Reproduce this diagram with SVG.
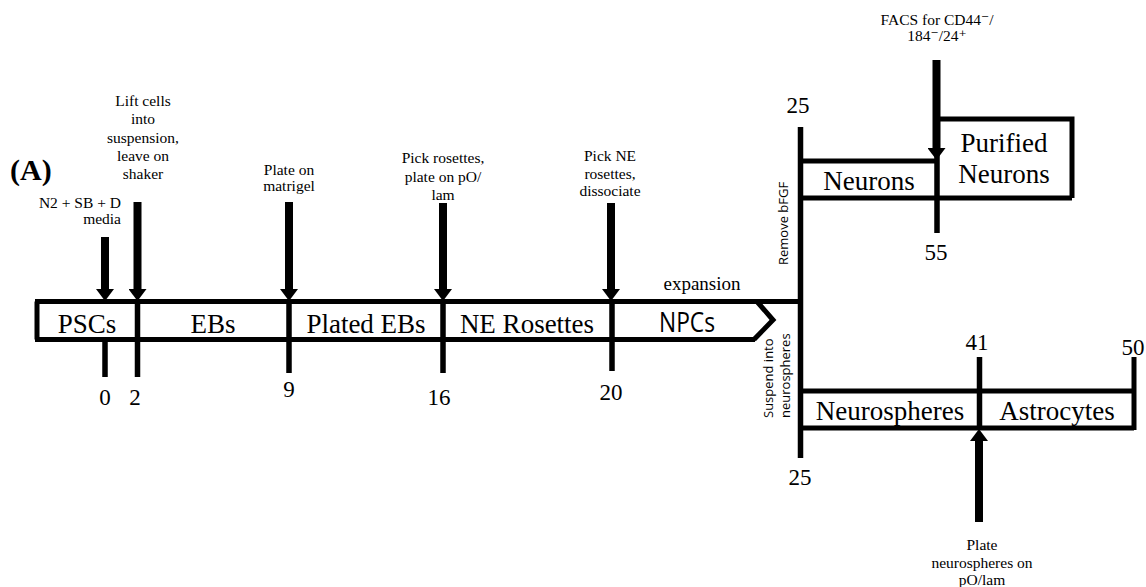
<svg xmlns="http://www.w3.org/2000/svg" width="1146" height="587" viewBox="0 0 1146 587">
<style>
.t{font-family:"Liberation Serif","Times New Roman","DejaVu Serif",serif;fill:#000}
.sm{font-size:15.5px;text-anchor:middle}
.bg{font-size:27px;text-anchor:middle}
.nm{font-size:23px;text-anchor:middle}
.sn{font-family:"Open Sans","DejaVu Sans",sans-serif;font-size:13px;fill:#000}
.ln{stroke:#000;stroke-width:5;fill:none}
.tk{stroke:#000;stroke-width:5.5;fill:none}
.ar{stroke:#000;stroke-width:8;fill:none;marker-end:url(#ah)}
</style>
<defs>
<marker id="ah" markerUnits="userSpaceOnUse" viewBox="0 0 12 18" markerWidth="12" markerHeight="18" refX="0" refY="9" orient="auto"><path d="M0,0 L12,9 L0,18 z" fill="#000"/></marker>
</defs>
<rect width="1146" height="587" fill="#fff"/>
<text class="t" x="10" y="180" font-size="30" font-weight="bold">(A)</text>

<g id="bar">
<path class="ln" d="M35,301.5 H803 M37,301.5 V339.5 M35,339.5 H755"/>
<path class="ln" stroke-width="4.5" d="M757,301.5 L773,320 L754,339.5" stroke-linejoin="miter"/>
</g>
<g id="psc"><text class="t bg" x="87" y="333">PSCs</text></g>
<g id="ebs"><text class="t bg" x="213" y="333">EBs</text></g>
<g id="plated"><text class="t bg" x="366" y="333">Plated EBs</text></g>
<g id="rosettes"><text class="t bg" x="527" y="333">NE Rosettes</text></g>
<g id="npcs"><text x="687" y="332" font-family="'Open Sans','DejaVu Sans',sans-serif" font-size="27" text-anchor="middle" textLength="56" lengthAdjust="spacingAndGlyphs">NPCs</text></g>

<g id="neurons">
<path class="ln" d="M800,161 H937 M800,198 H1072"/>
<text class="t bg" x="869" y="190">Neurons</text>
</g>
<g id="purified">
<path class="ln" d="M937,119 H1072 V198"/>
<text class="t bg" x="1004" y="152">Purified</text>
<text class="t bg" x="1004" y="183">Neurons</text>
</g>
<g id="neurospheres">
<path class="ln" d="M800,391 H1134 M800,428 H1134"/>
<text class="t bg" x="890" y="420">Neurospheres</text>
</g>
<g id="astrocytes">
<path class="ln" d="M1134,357 V430"/>
<text class="t bg" x="1057" y="420">Astrocytes</text>
</g>

<g id="connectors">
<path class="tk" d="M105,341 V377 M137.5,300 V377 M289,300 V373 M443,300 V373 M612,300 V371"/>
<path class="tk" stroke-width="6" d="M800.5,127 V458 M937,150 V233"/>
<path class="tk" d="M979.5,357 V428"/>
<line class="ar" x1="105" y1="237" x2="105" y2="289"/>
<line class="ar" x1="137.5" y1="202" x2="137.5" y2="289"/>
<line class="ar" x1="289" y1="202" x2="289" y2="289"/>
<line class="ar" x1="443" y1="203" x2="443" y2="289"/>
<line class="ar" x1="611" y1="203" x2="611" y2="289"/>
<line class="ar" x1="936.5" y1="60" x2="936.5" y2="148"/>
<line class="ar" x1="979" y1="522" x2="979" y2="441"/>
</g>

<g id="labels">
<text class="t" font-size="15.5" text-anchor="end"><tspan x="121" y="208">N2 + SB + D</tspan><tspan x="121" y="224">media</tspan></text>
<text class="t sm"><tspan x="143" y="106">Lift cells</tspan><tspan x="143" y="124.3">into</tspan><tspan x="143" y="142.6">suspension,</tspan><tspan x="143" y="160.9">leave on</tspan><tspan x="143" y="179.2">shaker</tspan></text>
<text class="t sm"><tspan x="289" y="175">Plate on</tspan><tspan x="289" y="191">matrigel</tspan></text>
<text class="t sm"><tspan x="443" y="163">Pick rosettes,</tspan><tspan x="443" y="181.5">plate on pO/</tspan><tspan x="443" y="200">lam</tspan></text>
<text class="t sm"><tspan x="610" y="161">Pick NE</tspan><tspan x="610" y="178.5">rosettes,</tspan><tspan x="610" y="196">dissociate</tspan></text>
<text class="t" x="702" y="290" font-size="19" text-anchor="middle">expansion</text>
<text class="t sm"><tspan x="937" y="25">FACS for CD44⁻/</tspan><tspan x="937" y="40.5">184⁻/24⁺</tspan></text>
<text class="t sm"><tspan x="982" y="550">Plate</tspan><tspan x="982" y="567.5">neurospheres on</tspan><tspan x="982" y="585">pO/lam</tspan></text>
<text class="sn" transform="translate(788,265) rotate(-90)">Remove bFGF</text>
<text class="sn" transform="translate(773,418) rotate(-90)">Suspend into</text>
<text class="sn" transform="translate(790,418) rotate(-90)">neurospheres</text>
</g>

<g id="numbers">
<text class="t nm" x="105" y="405">0</text>
<text class="t nm" x="135" y="405">2</text>
<text class="t nm" x="289" y="397">9</text>
<text class="t nm" x="439" y="405">16</text>
<text class="t nm" x="611" y="400">20</text>
<text class="t nm" x="798" y="113">25</text>
<text class="t nm" x="936" y="260">55</text>
<text class="t nm" x="977" y="350">41</text>
<text class="t nm" x="1133" y="355">50</text>
<text class="t nm" x="800" y="485">25</text>
</g>
</svg>
